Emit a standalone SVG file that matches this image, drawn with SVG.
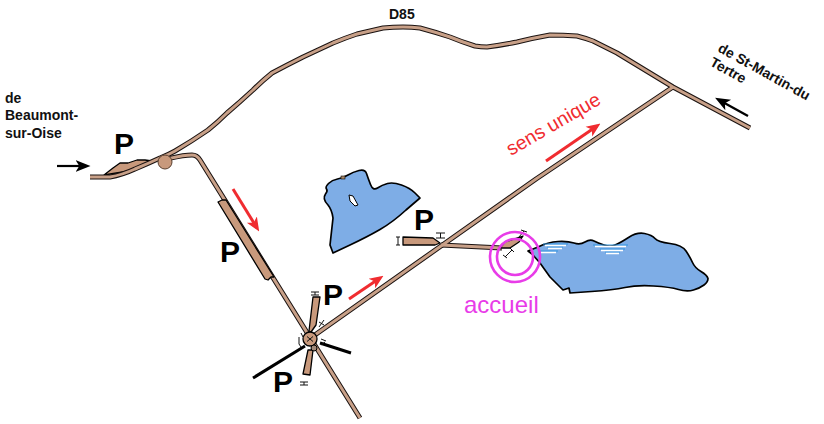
<svg xmlns="http://www.w3.org/2000/svg" width="824" height="424" viewBox="0 0 824 424">
<style>
text{font-family:"Liberation Sans",Arial,sans-serif}
.lbl{font-size:14px;font-weight:bold;fill:#111}
.p{font-size:30px;font-weight:bold;fill:#000}
.rb{fill:none;stroke:#1a1210;stroke-width:5;stroke-linejoin:round}
.rf{fill:none;stroke:#c8a088;stroke-width:3;stroke-linejoin:round}
.park{fill:#c8997c;stroke:#000;stroke-width:1.300;stroke-linejoin:round}
.lake{fill:#7eade6;stroke:#000;stroke-width:1.7;stroke-linejoin:round}
.red{stroke:#f02c30;stroke-width:3;fill:none}
.blk{stroke:#000;stroke-width:2.200;fill:none}
.ib{stroke:#111;stroke-width:1;fill:none}
.thick{stroke:#000;stroke-width:3;fill:none}
.w{stroke:#fff;stroke-width:1.4;fill:none}
.c{stroke:#2f96e0;stroke-width:1.2;fill:none}
.mg{fill:none;stroke:#e83ce8;stroke-width:2.600}
</style>
<defs>
<marker id="ar" viewBox="0 0 10 10" refX="7" refY="5" markerWidth="14" markerHeight="14" markerUnits="userSpaceOnUse" orient="auto"><path d="M0 0.800L10 5L0 9.200L2.500 5Z" fill="#f02c30"/></marker>
<marker id="ab" viewBox="0 0 10 10" refX="7" refY="5" markerWidth="15" markerHeight="15" markerUnits="userSpaceOnUse" orient="auto"><path d="M0 1L10 5L0 9L2.500 5Z" fill="#000"/></marker>
<path id="rd1" d="M90 177L110 177Q122 175 135 169Q147 164 160 158Q168 155 175 151Q192 141 208 130Q218 122 227 113Q240 102 253 90Q262 81 272 73Q287 65 303 57Q318 50 333 43Q345 38 357 34Q370 31 383 28Q393 27 403 27Q412 27 420 28Q435 32 450 37Q462 42 475 46Q481 47 487 47Q502 45 517 42Q533 38 550 35Q563 35 577 36Q585 38 593 41Q605 47 617 53L673 87L750 128"/>
<path id="rd2" d="M162 160C172 158 182 155 192 155Q197 155 200 160L360 418"/>
<path id="rd3" d="M312 337L441 246L536 179L673 87"/>
<path id="rd4" d="M441 245L502 248"/>
</defs>
<g id="lake-north"><path class="lake" d="M325.500 194Q328 191 326.500 189Q325 187 328.500 183.500Q332 180 337.500 179Q343 178 348 175Q353 172 359 170.500Q365 169 366.500 173.500Q368 178 370.500 184.500Q373 191 377.500 188Q382 185 387.500 183.500Q393 182 401.500 185Q410 188 415 193L420 198L406 210Q393 222 380 229.500Q367 237 350 245L333 253L330 245L333 218Q332 210 328 205Q322 199 325.500 194Z"/><rect x="341" y="176" width="4" height="3" fill="#a86" stroke="#000" stroke-width=".6"/><path d="M349 195L353 196L358 205L355 206L350 201Z" fill="#fff" stroke="#000"/></g>
<g id="lake-east"><path class="lake" d="M528 251L538 247Q548 242 558 241.500Q568 241 574 243Q580 245 585 242Q590 239 594 241Q598 243 604 245Q610 247 615 245Q620 243 628.500 237.500Q637 232 644.500 233.500Q652 235 655 238.500Q658 242 670 243.500Q682 245 686 251Q690 257 692.500 262.500Q695 268 701 271.500Q707 275 708 278.500Q708 282 704 285Q700 288 693.500 290Q687 292 678.500 289.500Q670 287 653.500 286Q637 285 625 287.500Q613 290 591.500 291.500L570 293L569 288L563 290L550 277L540 263L532 254Z"/>
<path class="c" d="M543 244H568M547 247H563M540 251H558M593 245H628M600 249H625M605 252H620"/><path class="w" d="M545 245.500H566M548 248.500H562M541 252.500H556M595 246.500H626M601 250.500H623M606 253.500H619"/></g>
<g id="parking-west"><path class="park" d="M104 175L113 168L120 163L128 163L137 160L145 160L152 161L135 170Z"/></g>
<g id="connectors">
<use href="#rd1" class="rb"/><use href="#rd2" class="rb"/><use href="#rd3" class="rb"/><use href="#rd4" class="rb"/>
<use href="#rd1" class="rf"/><use href="#rd2" class="rf"/><use href="#rd3" class="rf"/><use href="#rd4" class="rf"/>
<path class="thick" d="M253 378L305 346M320 343L351 353"/>
<path class="red" marker-end="url(#ar)" d="M233 189L257 228"/>
<path class="red" marker-end="url(#ar)" d="M349 299L380 278"/>
<path class="red" marker-end="url(#ar)" d="M546 161L597 126"/>
<path class="blk" marker-end="url(#ab)" d="M57 166H86"/>
<path class="blk" marker-end="url(#ab)" d="M748 116L719 100"/>
</g>
<g id="junction-west"><circle cx="165" cy="162" r="7" fill="#c8997c" stroke="#5a4030" stroke-width="1"/></g>
<g id="parking-road"><path class="park" d="M218 202L222 200L226 200L274 277L271 277L268 280L265 279Z"/></g>
<g id="parking-south"><path class="park" d="M313 297L320 297L316 325L311 332L309 331ZM308 350L313 350L310 375L303 374Z"/></g>
<g id="junction-south"><circle class="park" cx="310" cy="339" r="7"/><path class="ib" d="M307 336.500L313 341.500M313 336.500L307 341.500"/><circle cx="314" cy="348" r="3" fill="#a08878" stroke="#000"/></g>
<g id="parking-mid"><path class="park" d="M403 237L433 238L440 243L435 245L403 245Z"/></g>
<g id="parking-east"><path class="park" d="M500 248L505 242L523 236L519 242L510 248Z"/></g>
<g id="barriers"><path class="ib" d="M311 292H319M311 295H319M315 292V295M300 382H308M300 385H308M304 382V385M398 237V245M396 237H400M396 245H400M436 233H445M436 238H445M440.500 233V238M521 230L527 232M519 237L524 231M505 257L512 250M503 255L507 258M510 248L514 252M319 322L324 325M324 320L319 327M301 333L303 337M299 337V344L301 347M321 339L326 341M321 345L325 342"/></g>
<g id="accueil"><circle class="mg" cx="515" cy="257" r="25"/><circle class="mg" cx="515" cy="257" r="18"/><text x="464" y="313" font-size="24" fill="#e83ce8">accueil</text></g>
<text class="lbl" x="389" y="19">D85</text>
<text class="lbl" x="5" y="103">de</text><text class="lbl" x="5" y="120">Beaumont-</text><text class="lbl" x="5" y="138">sur-Oise</text>
<text class="lbl" transform="translate(717 51) rotate(29)">de St-Martin-du</text>
<text class="lbl" transform="translate(709 65) rotate(29)">Tertre</text>
<text transform="translate(511 156) rotate(-30)" font-size="19.500" fill="#f02c30">sens unique</text>
<text class="p" x="114" y="154">P</text><text class="p" x="220" y="262">P</text><text class="p" x="414" y="230">P</text><text class="p" x="323" y="305">P</text><text class="p" x="273" y="392">P</text>
</svg>
